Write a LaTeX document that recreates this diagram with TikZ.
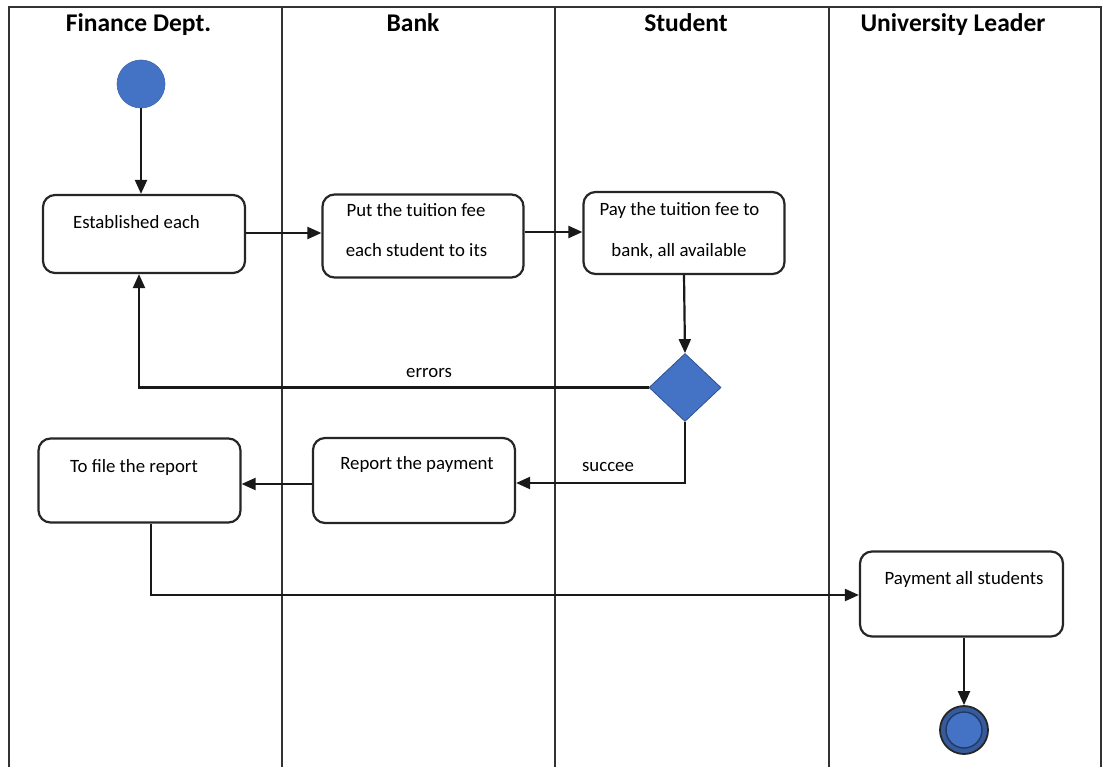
\documentclass[tikz,border=0pt]{standalone}
\usepackage{fontspec}
\setmainfont{Carlito}
\usetikzlibrary{shapes.geometric,arrows.meta}
\definecolor{ublue}{HTML}{4472C4}
\definecolor{dblue}{HTML}{2F528F}
\definecolor{frame}{HTML}{333333}
\begin{document}
\begin{tikzpicture}[x=1pt,y=-1pt,
  lane/.style={draw=frame,line width=1.4pt},
  head/.style={font=\fontsize{25.5}{30}\selectfont\bfseries,anchor=base},
  act/.style={draw=black!85,line width=2.2pt,rounded corners=12pt,fill=white,inner sep=0pt},
  txt/.style={font=\fontsize{18.8}{22}\selectfont,anchor=base,inner sep=0pt},
  arr/.style={draw=black!90,line width=2.2pt,-{Triangle[length=14pt,width=12pt]}},
  flow/.style={draw=black!85,line width=2pt}]
\useasboundingbox (0,0) rectangle (1107,767);
% swimlane frame
\draw[lane] (9,767) -- (9,7) -- (1101,7) -- (1101,767);
\draw[lane] (282,7) -- (282,767);
\draw[lane] (555,7) -- (555,767);
\draw[lane] (829,7) -- (829,767);
\node[head] (h1) at (138.5,32) {Finance Dept.};
\node[head] (h2) at (413,32) {Bank};
\node[head] (h3) at (686,32) {Student};
\node[head] (h4) at (953,32) {University Leader};
% start
\node[circle,fill=ublue,draw=ublue!90!black,line width=0.6pt,minimum size=48pt,inner sep=0pt] (start) at (141,84) {};
% activities
\node[act,minimum width=202pt,minimum height=78pt] (A) at (144,234) {};
\node[txt] (At) at (136.5,229) {Established each};
\node[act,minimum width=201pt,minimum height=83pt] (B) at (423,236) {};
\node[txt] (Bt1) at (416,217) {Put the tuition fee};
\node[txt] (Bt2) at (416.5,256) {each student to its};
\node[act,minimum width=201pt,minimum height=82pt] (C) at (684,233) {};
\node[txt] (Ct1) at (679.5,215) {Pay the tuition fee to};
\node[txt] (Ct2) at (679,256) {bank, all available};
\node[diamond,fill=ublue,draw=dblue,line width=0.8pt,minimum width=72pt,minimum height=68pt,inner sep=0pt] (dia) at (685,387.5) {};
\node[act,minimum width=202pt,minimum height=84pt] (D) at (139.5,480.5) {};
\node[txt] (Dt) at (134,472) {To file the report};
\node[act,minimum width=202pt,minimum height=85pt] (E) at (414,480.5) {};
\node[txt] (Et) at (417,469) {Report the payment};
\node[act,minimum width=203pt,minimum height=85pt] (F) at (961.5,594) {};
\node[txt] (Ft) at (964,584) {Payment all students};
% end
\node[circle,fill=ublue!80!black,draw=black!85,line width=1.8pt,minimum size=48pt,inner sep=0pt] (end) at (964,730) {};
\node[circle,fill=ublue,draw=dblue!70!black,line width=1.4pt,minimum size=36pt,inner sep=0pt] (endin) at (964,730) {};
% connectors
\draw[arr] (start) -- (start |- A.north);
\draw[arr] (A.east |- 0,233) -- (B.west |- 0,233);
\draw[arr] (B.east |- 0,232) -- (C.west |- 0,232);
\draw[arr] (C.south) -- (dia.north);
\coordinate (errc) at (139,387.5);
\draw[arr] (dia.west) -- (errc) -- (errc |- A.south);
\node[txt] (errl) at (429,377) {errors};
\coordinate (succ) at (685,483);
\draw[arr] (dia.south) -- (succ) -- (succ -| E.east);
\node[txt] (succl) at (608,471) {succee};
\draw[arr] (E.west |- 0,484) -- (D.east |- 0,484);
\coordinate (dd) at (151,595);
\draw[arr] (dd |- D.south) -- (dd) -- (dd -| F.west);
\draw[arr] (F.south -| end) -- (end.north);
\end{tikzpicture}
\end{document}
